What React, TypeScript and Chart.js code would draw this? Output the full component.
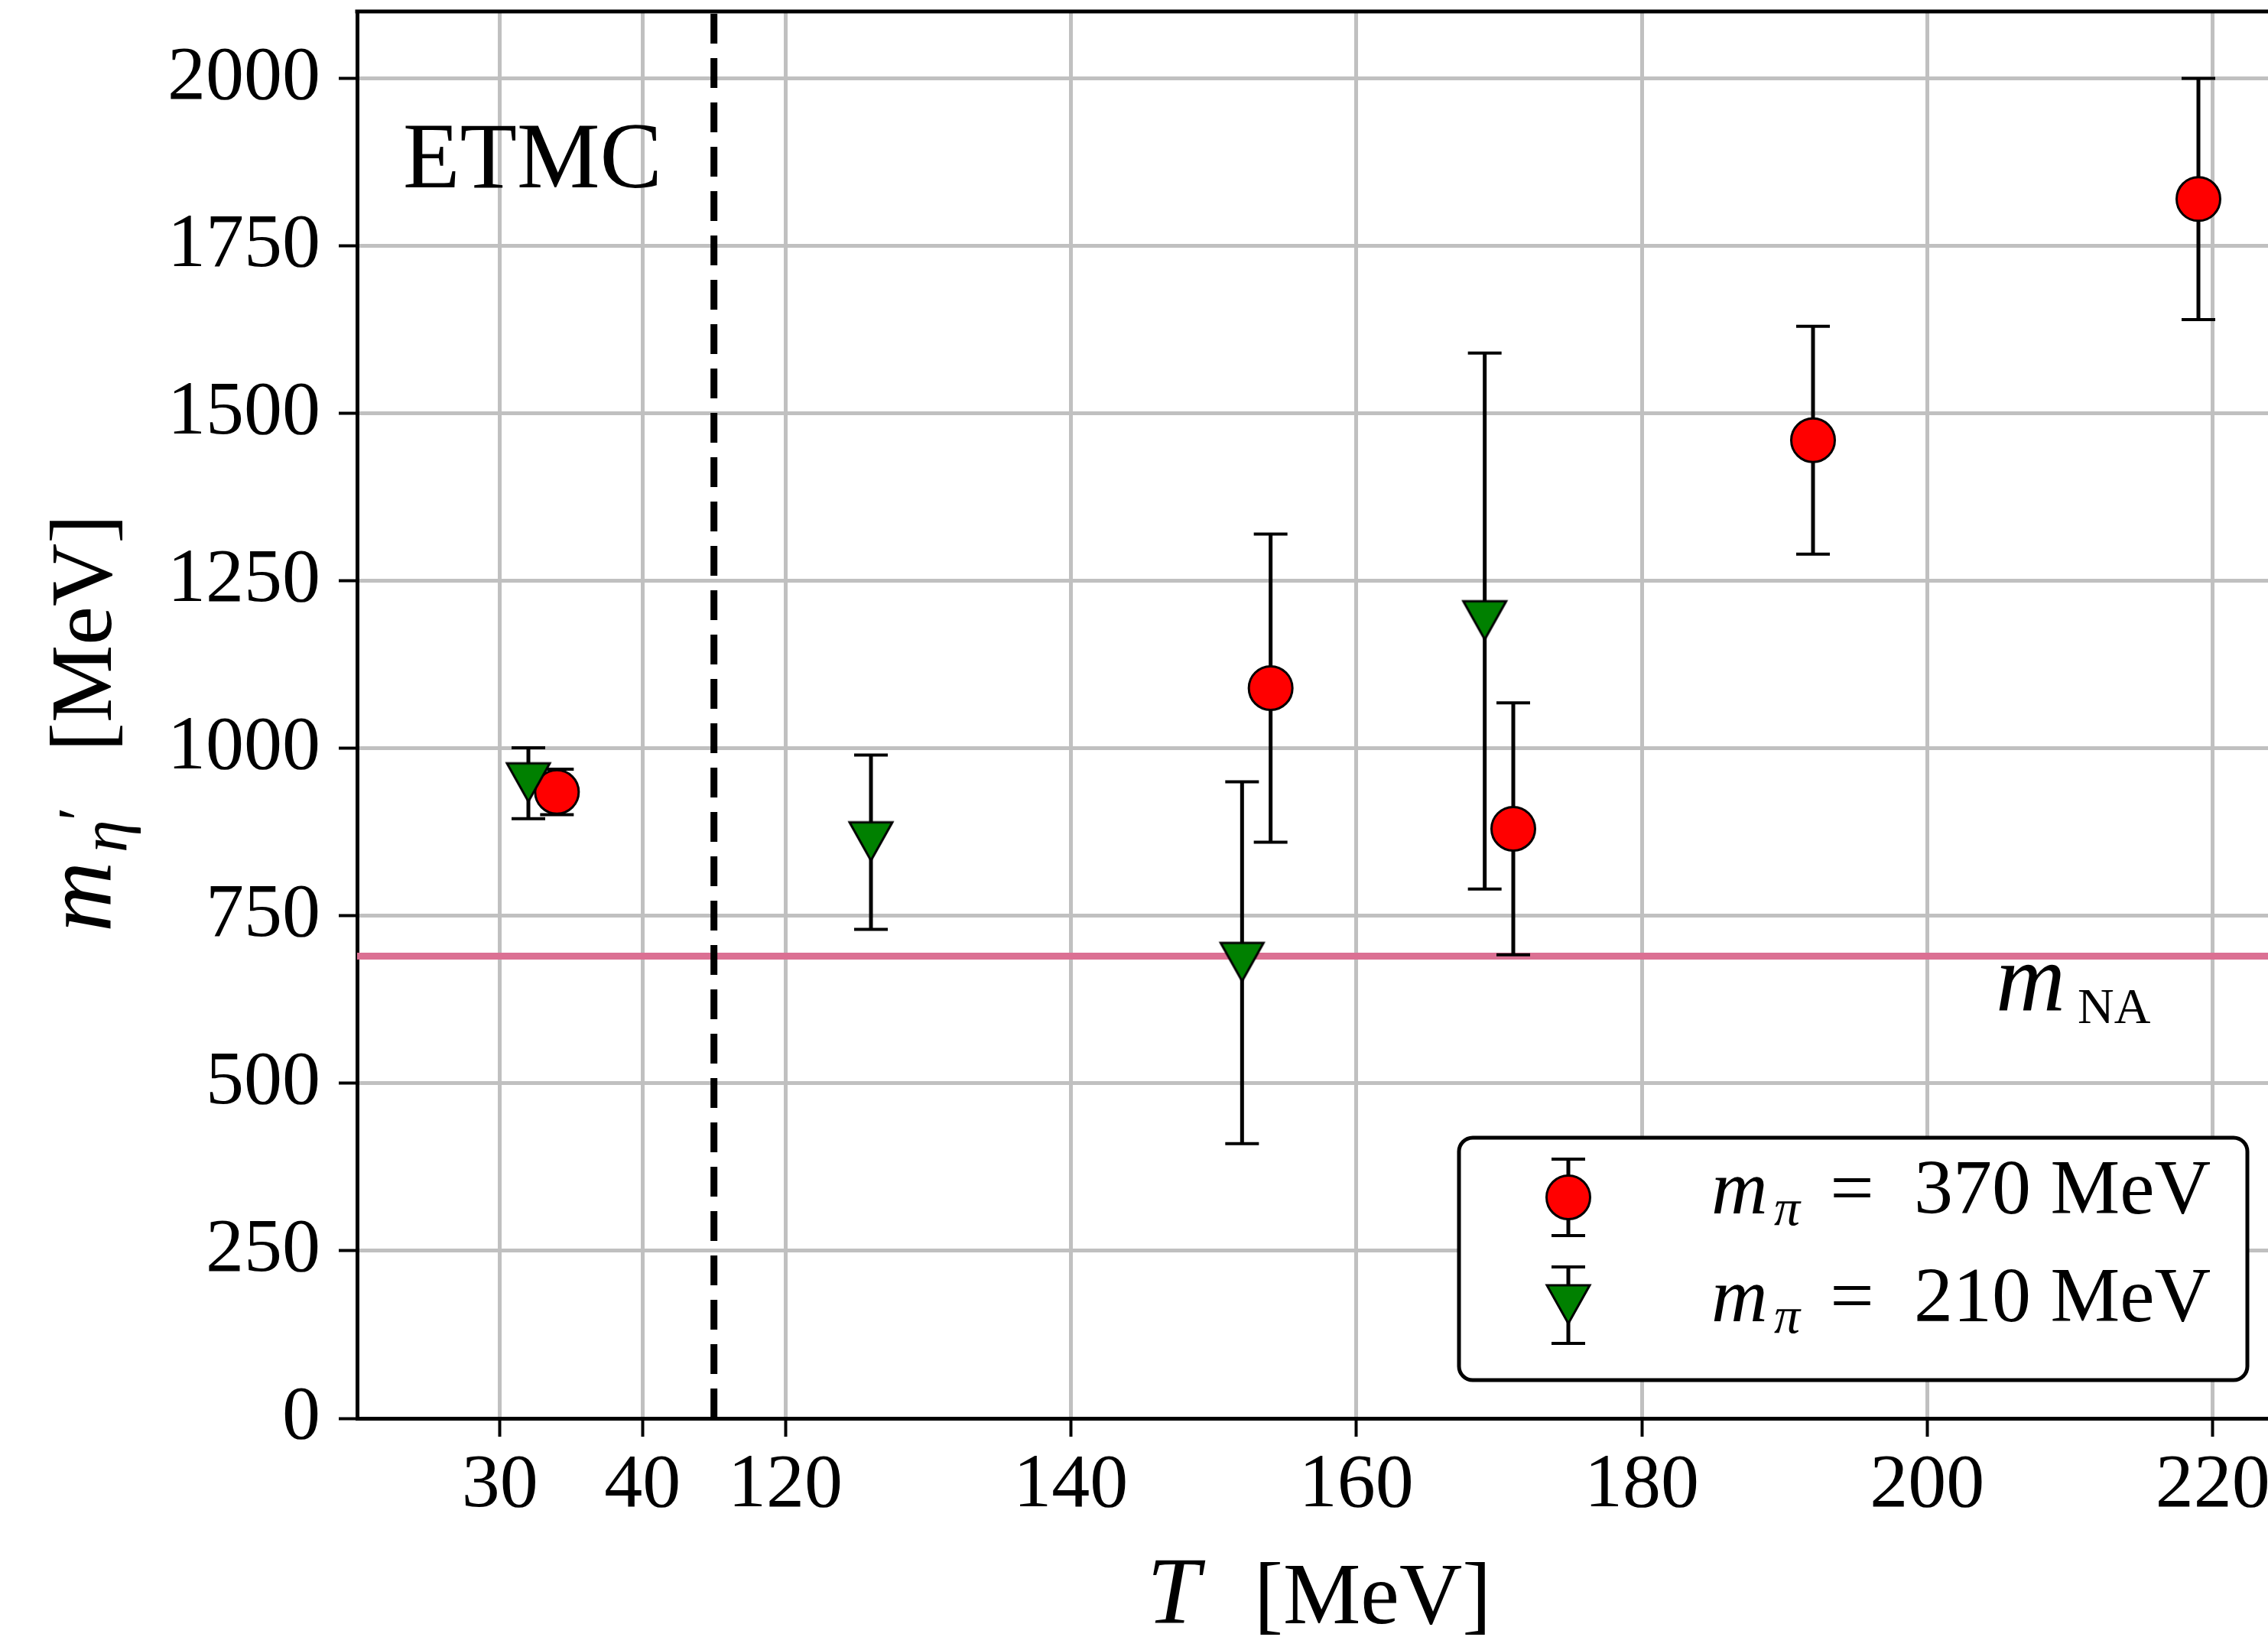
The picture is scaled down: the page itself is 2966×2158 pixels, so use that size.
import React, { useEffect, useRef } from 'react';
import { Chart, registerables } from 'chart.js';

Chart.register(...registerables);

// ---- data ----
const temps370 = [34, 154, 171, 192, 219];
const mass370 = [935, 1090, 880, 1460, 1820];
const err370 = [34, 230, 188, 170, 180];

const temps210 = [32, 126, 152, 169];
const mass210 = [948, 860, 680, 1190];
const err210 = [53, 130, 270, 400];

const xTickTemps = [30, 40, 120, 140, 160, 180, 200, 220];
const yTickValues = [0, 250, 500, 750, 1000, 1250, 1500, 1750, 2000];
const labels = ['m_π = 370 MeV', 'm_π = 210 MeV'];
const mNA = 690;
const xLimits = [20, 225];
const yLimits = [0, 2100];
const breakT = 45; // position of the axis break (dashed line), low-T side
const gapShift = 70; // T offset between the two axis segments

const RED = '#ff0000';
const GREEN = '#008000';
const PINK = '#DB7093';
const FONT = "'Liberation Serif', 'Times New Roman', serif";

const toAxis = (T: number) => (T < 80 ? T : T - gapShift);
const fromAxis = (u: number) => (u < breakT ? u : u + gapShift);

function makeTriangle(): HTMLCanvasElement {
  const c = document.createElement('canvas');
  c.width = 70;
  c.height = 70;
  const g = c.getContext('2d')!;
  const m = 35;
  g.beginPath();
  g.moveTo(m - 28, m - 26);
  g.lineTo(m + 28, m - 26);
  g.lineTo(m, m + 24);
  g.closePath();
  g.fillStyle = GREEN;
  g.fill();
  g.lineWidth = 3;
  g.lineJoin = 'miter';
  g.strokeStyle = '#000';
  g.stroke();
  return c;
}

export default function App() {
  const ref = useRef<HTMLCanvasElement>(null);

  useEffect(() => {
    const canvas = ref.current!;
    const tri = makeTriangle();

    const errBars = {
      id: 'errBars',
      beforeDatasetDraw(chart: any, args: any) {
        const ds = chart.data.datasets[args.index];
        const errs: number[] = ds.errs;
        const ys = chart.scales.y;
        const ctx = chart.ctx;
        ctx.save();
        ctx.strokeStyle = '#000';
        args.meta.data.forEach((pt: any, i: number) => {
          const v = ds.data[i].y;
          const x = pt.x;
          const y1 = ys.getPixelForValue(v - errs[i]);
          const y2 = ys.getPixelForValue(v + errs[i]);
          ctx.lineWidth = 5;
          ctx.beginPath();
          ctx.moveTo(x, y1);
          ctx.lineTo(x, y2);
          ctx.stroke();
          ctx.lineWidth = 4;
          ctx.beginPath();
          ctx.moveTo(x - 22, y1);
          ctx.lineTo(x + 22, y1);
          ctx.moveTo(x - 22, y2);
          ctx.lineTo(x + 22, y2);
          ctx.stroke();
        });
        ctx.restore();
      },
    };

    const decor = {
      id: 'decor',
      beforeDatasetsDraw(chart: any) {
        const { ctx, chartArea: ca, scales } = chart;
        ctx.save();
        // m_NA line
        const yNA = scales.y.getPixelForValue(mNA);
        ctx.strokeStyle = PINK;
        ctx.lineWidth = 9;
        ctx.beginPath();
        ctx.moveTo(ca.left, yNA);
        ctx.lineTo(ca.right, yNA);
        ctx.stroke();
        // axis break dashed line
        const xb = scales.x.getPixelForValue(breakT);
        ctx.strokeStyle = '#000';
        ctx.lineWidth = 9;
        ctx.setLineDash([39, 19]);
        ctx.beginPath();
        ctx.moveTo(xb, ca.bottom);
        ctx.lineTo(xb, ca.top);
        ctx.stroke();
        ctx.setLineDash([]);
        ctx.restore();
      },
      afterDatasetsDraw(chart: any) {
        const { ctx, chartArea: ca, scales } = chart;
        ctx.save();
        // top and right spines
        ctx.strokeStyle = '#000';
        ctx.lineWidth = 5;
        ctx.beginPath();
        ctx.moveTo(ca.left - 2.5, ca.top);
        ctx.lineTo(ca.right, ca.top);
        ctx.lineTo(ca.right, ca.bottom);
        ctx.stroke();

        ctx.fillStyle = '#000';
        ctx.textBaseline = 'alphabetic';
        ctx.textAlign = 'left';
        // ETMC
        ctx.font = `122px ${FONT}`;
        ctx.fillText('ETMC', ca.left + 60, ca.top + 230);
        // m_NA label
        const yNA = scales.y.getPixelForValue(mNA);
        ctx.font = `italic 126px ${FONT}`;
        ctx.fillText('m', 2610, yNA + 72);
        ctx.font = `66px ${FONT}`;
        ctx.fillText('NA', 2717, yNA + 88);

        // x-axis title
        ctx.font = `italic 124px ${FONT}`;
        ctx.fillText('T', 1500, 2123);
        ctx.font = `114px ${FONT}`;
        ctx.fillText('[MeV]', 1640, 2123);

        // y-axis title (rotated)
        ctx.save();
        ctx.translate(145, 1219);
        ctx.rotate(-Math.PI / 2);
        ctx.font = `italic 128px ${FONT}`;
        ctx.fillText('m', 0, 0);
        ctx.font = `italic 86px ${FONT}`;
        ctx.fillText('η', 104, 20);
        ctx.font = `80px ${FONT}`;
        ctx.fillText('′', 146, -14);
        ctx.font = `114px ${FONT}`;
        ctx.fillText('[MeV]', 236, 0);
        ctx.restore();

        // legend
        const right = ca.right - 48;
        const bottom = ca.bottom - 50;
        const left = right - 1031;
        const top = bottom - 317;
        ctx.beginPath();
        (ctx as any).roundRect(left, top, right - left, bottom - top, 18);
        ctx.fillStyle = '#fff';
        ctx.fill();
        ctx.lineWidth = 5;
        ctx.strokeStyle = '#000';
        ctx.stroke();

        const mx = left + 143;
        const rows = [top + 78, top + 219];
        rows.forEach((cy, i) => {
          ctx.strokeStyle = '#000';
          ctx.lineWidth = 5;
          ctx.beginPath();
          ctx.moveTo(mx, cy - 50);
          ctx.lineTo(mx, cy + 50);
          ctx.stroke();
          ctx.lineWidth = 4;
          ctx.beginPath();
          ctx.moveTo(mx - 22, cy - 50);
          ctx.lineTo(mx + 22, cy - 50);
          ctx.moveTo(mx - 22, cy + 50);
          ctx.lineTo(mx + 22, cy + 50);
          ctx.stroke();
          if (i === 0) {
            ctx.beginPath();
            ctx.arc(mx, cy, 28.5, 0, Math.PI * 2);
            ctx.fillStyle = RED;
            ctx.fill();
            ctx.lineWidth = 3;
            ctx.stroke();
          } else {
            ctx.drawImage(tri, mx - tri.width / 2, cy - tri.height / 2);
          }
          const base = cy + 21;
          const rest = labels[i].split(' = ')[1];
          const lx = left + 330;
          ctx.fillStyle = '#000';
          ctx.font = `italic 102px ${FONT}`;
          ctx.fillText('m', lx, base);
          ctx.font = `italic 68px ${FONT}`;
          ctx.fillText('π', lx + 82, base + 15);
          ctx.font = `102px ${FONT}`;
          ctx.textAlign = 'center';
          ctx.fillText('=', lx + 184, base);
          ctx.textAlign = 'left';
          ctx.fillText(rest, lx + 265, base);
        });
        ctx.restore();
      },
    };

    const chart = new Chart(canvas, {
      type: 'scatter',
      data: {
        datasets: [
          {
            label: labels[0],
            data: temps370.map((t, i) => ({ x: toAxis(t), y: mass370[i] })),
            errs: err370,
            pointStyle: 'circle',
            pointRadius: 28.5,
            pointHoverRadius: 28.5,
            backgroundColor: RED,
            borderColor: '#000',
            borderWidth: 3,
            order: 1,
          } as any,
          {
            label: labels[1],
            data: temps210.map((t, i) => ({ x: toAxis(t), y: mass210[i] })),
            errs: err210,
            pointStyle: tri,
            pointRadius: 30,
            pointHoverRadius: 30,
            backgroundColor: GREEN,
            borderColor: '#000',
            borderWidth: 0,
            order: 0,
          } as any,
        ],
      },
      options: {
        animation: false,
        responsive: false,
        devicePixelRatio: 1,
        events: [],
        layout: { autoPadding: false, padding: { left: 0, top: 15, right: 23, bottom: 0 } },
        plugins: { legend: { display: false }, tooltip: { enabled: false } },
        scales: {
          x: {
            type: 'linear',
            min: toAxis(xLimits[0]),
            max: toAxis(xLimits[1]),
            afterBuildTicks: (s: any) => {
              s.ticks = xTickTemps.map((t) => ({ value: toAxis(t) }));
            },
            afterFit: (s: any) => {
              s.height = 303;
              s.paddingLeft = 0;
              s.paddingRight = 0;
            },
            grid: { color: '#c0c0c0', lineWidth: 5, tickColor: '#000', tickLength: 24, tickWidth: 4 },
            border: { color: '#000', width: 5 },
            ticks: {
              color: '#000',
              font: { family: FONT, size: 100, lineHeight: 1 },
              padding: 15,
              autoSkip: false,
              maxRotation: 0,
              callback: (v: any) => String(fromAxis(Number(v))),
            },
          },
          y: {
            type: 'linear',
            min: yLimits[0],
            max: yLimits[1],
            afterBuildTicks: (s: any) => {
              s.ticks = yTickValues.map((v) => ({ value: v }));
            },
            afterFit: (s: any) => {
              s.width = 467;
              s.paddingTop = 0;
              s.paddingBottom = 0;
            },
            grid: { color: '#c0c0c0', lineWidth: 5, tickColor: '#000', tickLength: 24, tickWidth: 4 },
            border: { color: '#000', width: 5 },
            ticks: {
              color: '#000',
              font: { family: FONT, size: 100, lineHeight: 1 },
              padding: 24,
              autoSkip: false,
              callback: (v: any) => String(v),
            },
          },
        },
      } as any,
      plugins: [errBars, decor],
    });

    return () => chart.destroy();
  }, []);

  return (
    <div
      style={{
        position: 'fixed',
        left: 0,
        top: 0,
        width: 2966,
        height: 2158,
        overflow: 'hidden',
        background: '#fff',
      }}
    >
      <canvas ref={ref} width={3010} height={2158} style={{ display: 'block', width: 3010, height: 2158 }} />
    </div>
  );
}
